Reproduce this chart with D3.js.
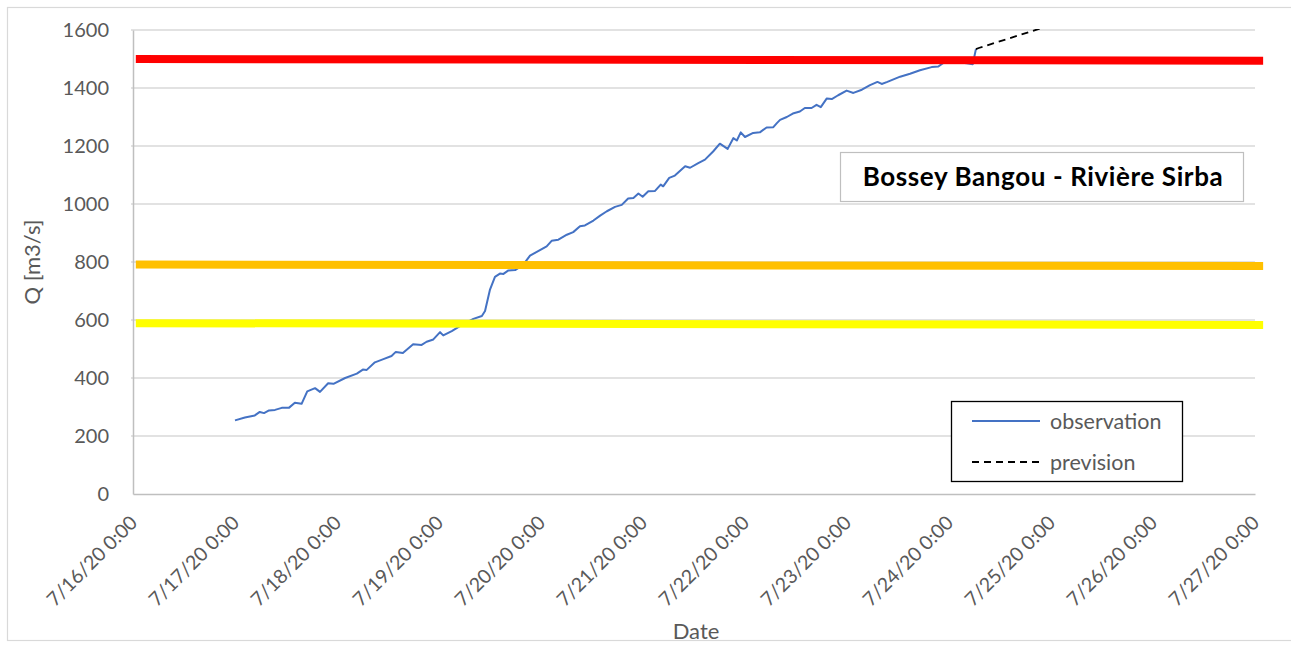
<!DOCTYPE html>
<html>
<head>
<meta charset="utf-8">
<script src="https://cdn.jsdelivr.net/npm/d3@7/dist/d3.min.js"></script>
<style>
  html, body { margin: 0; padding: 0; background: #fff; }
  svg { display: block; }
  text { font-family: Lato, "Open Sans", sans-serif; }
</style>
</head>
<body>
<svg id="chart" width="1291" height="645"></svg>
<script>
// ---------------- data ----------------
const obsTimes = [
  "2020-07-17 00:00","2020-07-17 02:20","2020-07-17 04:40","2020-07-17 05:50","2020-07-17 06:50",
  "2020-07-17 08:00","2020-07-17 09:25","2020-07-17 11:00","2020-07-17 12:40","2020-07-17 14:05",
  "2020-07-17 15:40","2020-07-17 17:00","2020-07-17 18:50","2020-07-17 20:00","2020-07-17 21:55",
  "2020-07-17 23:10","2020-07-18 01:55","2020-07-18 04:40","2020-07-18 06:05","2020-07-18 07:00",
  "2020-07-18 08:55","2020-07-18 10:55","2020-07-18 12:50","2020-07-18 13:50","2020-07-18 15:30",
  "2020-07-18 17:55","2020-07-18 19:55","2020-07-18 21:05","2020-07-18 22:40","2020-07-19 00:15",
  "2020-07-19 01:00","2020-07-19 03:00","2020-07-19 04:55","2020-07-19 08:05","2020-07-19 10:05",
  "2020-07-19 10:50","2020-07-19 12:00","2020-07-19 13:10","2020-07-19 14:20","2020-07-19 15:10",
  "2020-07-19 16:20","2020-07-19 17:55","2020-07-19 19:50","2020-07-19 21:25","2020-07-19 23:45",
  "2020-07-20 01:20","2020-07-20 02:30","2020-07-20 04:05","2020-07-20 06:05","2020-07-20 07:35",
  "2020-07-20 09:10","2020-07-20 10:20","2020-07-20 12:20","2020-07-20 13:55","2020-07-20 15:30",
  "2020-07-20 17:25","2020-07-20 19:00","2020-07-20 20:30","2020-07-20 21:45","2020-07-20 22:55",
  "2020-07-20 23:55","2020-07-21 01:15","2020-07-21 02:50","2020-07-21 04:10","2020-07-21 04:45",
  "2020-07-21 06:10","2020-07-21 07:30","2020-07-21 09:55","2020-07-21 11:05","2020-07-21 13:00",
  "2020-07-21 14:35","2020-07-21 16:30","2020-07-21 18:05","2020-07-21 19:55","2020-07-21 21:15",
  "2020-07-21 22:05","2020-07-21 23:00","2020-07-22 00:00","2020-07-22 01:55","2020-07-22 03:30",
  "2020-07-22 05:05","2020-07-22 06:40","2020-07-22 07:30","2020-07-22 08:15","2020-07-22 09:50",
  "2020-07-22 11:15","2020-07-22 12:55","2020-07-22 14:05","2020-07-22 15:40","2020-07-22 16:50",
  "2020-07-22 17:50","2020-07-22 19:15","2020-07-22 20:25","2020-07-22 21:55","2020-07-22 23:55",
  "2020-07-23 01:30","2020-07-23 03:30","2020-07-23 05:25","2020-07-23 07:10","2020-07-23 08:10",
  "2020-07-23 09:30","2020-07-23 12:30","2020-07-23 14:50","2020-07-23 17:10","2020-07-23 19:55",
  "2020-07-23 21:30","2020-07-23 23:05","2020-07-24 00:45","2020-07-24 02:35","2020-07-24 04:10",
  "2020-07-24 05:35","2020-07-24 06:20"
];
const obsValues = [
  254,264,271,283,279, 288,290,297,297,315, 311,354,365,352,382, 380,400,415,429,428,
  454,465,476,490,486, 516,514,525,533,558, 547,562,579,604,614, 631,705,749,760,759,
  771,772,791,822,841, 854,873,877,894,903, 923,926,943,960,975, 990,997,1019,1021,1036,
  1025,1044,1045,1067,1061, 1090,1098,1130,1125,1141, 1153,1181,1208,1190,1227, 1219,1247,1231,1245,1247,
  1264,1265,1279,1290,1300, 1312,1319,1331,1331,1342, 1334,1364,1362,1375,1391, 1383,1394,1410,1421,1414,
  1421,1439,1449,1461,1472, 1474,1491,1495,1488,1485, 1482,1534
];
const prevTimes = ["2020-07-24 06:20","2020-07-24 07:00","2020-07-25 00:00"];
const prevValues = [1534, 1538, 1617];

const thresholdTimes = ["2020-07-16 00:40","2020-07-27 01:55"];
const redValues = [1500, 1494];
const orangeValues = [791, 786];
const yellowValues = [589, 583];

const yTicks = [0,200,400,600,800,1000,1200,1400,1600];
const xTickDates = ["2020-07-16","2020-07-17","2020-07-18","2020-07-19","2020-07-20","2020-07-21",
                    "2020-07-22","2020-07-23","2020-07-24","2020-07-25","2020-07-26","2020-07-27"];

const titleText = "Bossey Bangou - Rivière Sirba";
const yLabel = "Q [m3/s]";
const xLabel = "Date";
const seriesNames = ["observation","prevision"];

// ---------------- drawing ----------------
const parse = d3.timeParse("%Y-%m-%d %H:%M");
const parseDay = d3.timeParse("%Y-%m-%d");
const fmt = d3.timeFormat("%-m/%-d/%y %-H:%M");

const svg = d3.select("#chart");
const L = 133, R = 1255, T = 30, B = 494;

const x = d3.scaleTime().domain([parseDay("2020-07-16"), parseDay("2020-07-27")]).range([L, R]);
const y = d3.scaleLinear().domain([0, 1600]).range([B, T]);

// outer border
svg.append("rect").attr("x", 7.5).attr("y", 7.5).attr("width", 1300).attr("height", 633)
  .attr("fill", "none").attr("stroke", "#d9d9d9").attr("stroke-width", 1.2);

svg.append("defs").append("clipPath").attr("id", "plotclip")
  .append("rect").attr("x", L).attr("y", T - 1).attr("width", R - L + 20).attr("height", B - T + 2);

// gridlines
svg.append("g").selectAll("line").data(yTicks.filter(d => d > 0)).join("line")
  .attr("x1", L - 2).attr("x2", R).attr("y1", d => y(d)).attr("y2", d => y(d))
  .attr("stroke", "#d9d9d9").attr("stroke-width", 1.5);

// y axis
const yAxis = svg.append("g").attr("transform", `translate(${L},0)`)
  .call(d3.axisLeft(y).tickValues(yTicks).tickSize(0).tickPadding(24).tickFormat(d3.format("d")));
yAxis.select(".domain").attr("stroke", "#bfbfbf").attr("stroke-width", 1.5);
yAxis.selectAll("text").attr("fill", "#595959").attr("font-size", 20)
  .attr("font-family", "Lato, 'Open Sans', sans-serif");

// x axis
const xAxis = svg.append("g").attr("transform", `translate(0,${B})`)
  .call(d3.axisBottom(x).tickValues(xTickDates.map(parseDay)).tickSize(0).tickFormat(fmt));
xAxis.select(".domain").attr("stroke", "#bfbfbf").attr("stroke-width", 1.5);
xAxis.selectAll("text")
  .attr("fill", "#595959").attr("font-size", 19.5)
  .attr("font-family", "Lato, 'Open Sans', sans-serif")
  .attr("text-anchor", "end")
  .attr("dy", null).attr("y", null)
  .attr("transform", "translate(5,30) rotate(-45)");

// series
const line = d3.line().x(d => x(d[0])).y(d => y(d[1]));
const obs = obsTimes.map((t, i) => [parse(t), obsValues[i]]);
const prev = prevTimes.map((t, i) => [parse(t), prevValues[i]]);

const plot = svg.append("g").attr("clip-path", "url(#plotclip)");
plot.append("path").datum(obs).attr("d", line).attr("fill", "none")
  .attr("stroke", "#4472C4").attr("stroke-width", 2).attr("stroke-linejoin", "round");
plot.append("path").datum(prev).attr("d", line).attr("fill", "none")
  .attr("stroke", "#000").attr("stroke-width", 1.8).attr("stroke-dasharray", "7,5");

// thresholds
const thr = [[redValues, "#FF0000"], [orangeValues, "#FFC000"], [yellowValues, "#FFFF00"]];
thr.forEach(([vals, col]) => {
  const pts = thresholdTimes.map((t, i) => [parse(t), vals[i]]);
  svg.append("path").datum(pts).attr("d", line).attr("fill", "none")
    .attr("stroke", col).attr("stroke-width", 8);
});

// title box
svg.append("rect").attr("x", 840.5).attr("y", 152.5).attr("width", 403).attr("height", 49)
  .attr("fill", "#fff").attr("stroke", "#bfbfbf").attr("stroke-width", 1.2);
svg.append("text").attr("x", 1043).attr("y", 186).attr("text-anchor", "middle")
  .attr("font-size", 26).attr("letter-spacing", 0.6).attr("font-weight", "bold").attr("fill", "#000").text(titleText);

// legend
const lg = svg.append("g");
lg.append("rect").attr("x", 951.5).attr("y", 401.5).attr("width", 231).attr("height", 80)
  .attr("fill", "#fff").attr("stroke", "#000").attr("stroke-width", 1.3);
lg.append("line").attr("x1", 972).attr("x2", 1040).attr("y1", 421).attr("y2", 421)
  .attr("stroke", "#4472C4").attr("stroke-width", 2);
lg.append("line").attr("x1", 972).attr("x2", 1040).attr("y1", 462).attr("y2", 462)
  .attr("stroke", "#000").attr("stroke-width", 1.8).attr("stroke-dasharray", "7,5");
lg.append("text").attr("x", 1050).attr("y", 429).attr("font-size", 21.5).attr("fill", "#595959").text(seriesNames[0]);
lg.append("text").attr("x", 1050).attr("y", 470).attr("font-size", 21.5).attr("fill", "#595959").text(seriesNames[1]);

// axis titles
svg.append("text").attr("transform", "translate(40,262) rotate(-90)").attr("text-anchor", "middle")
  .attr("font-size", 22).attr("fill", "#595959").text(yLabel);
svg.append("text").attr("x", 696).attr("y", 639).attr("text-anchor", "middle")
  .attr("font-size", 22).attr("fill", "#595959").text(xLabel);
</script>
</body>
</html>
